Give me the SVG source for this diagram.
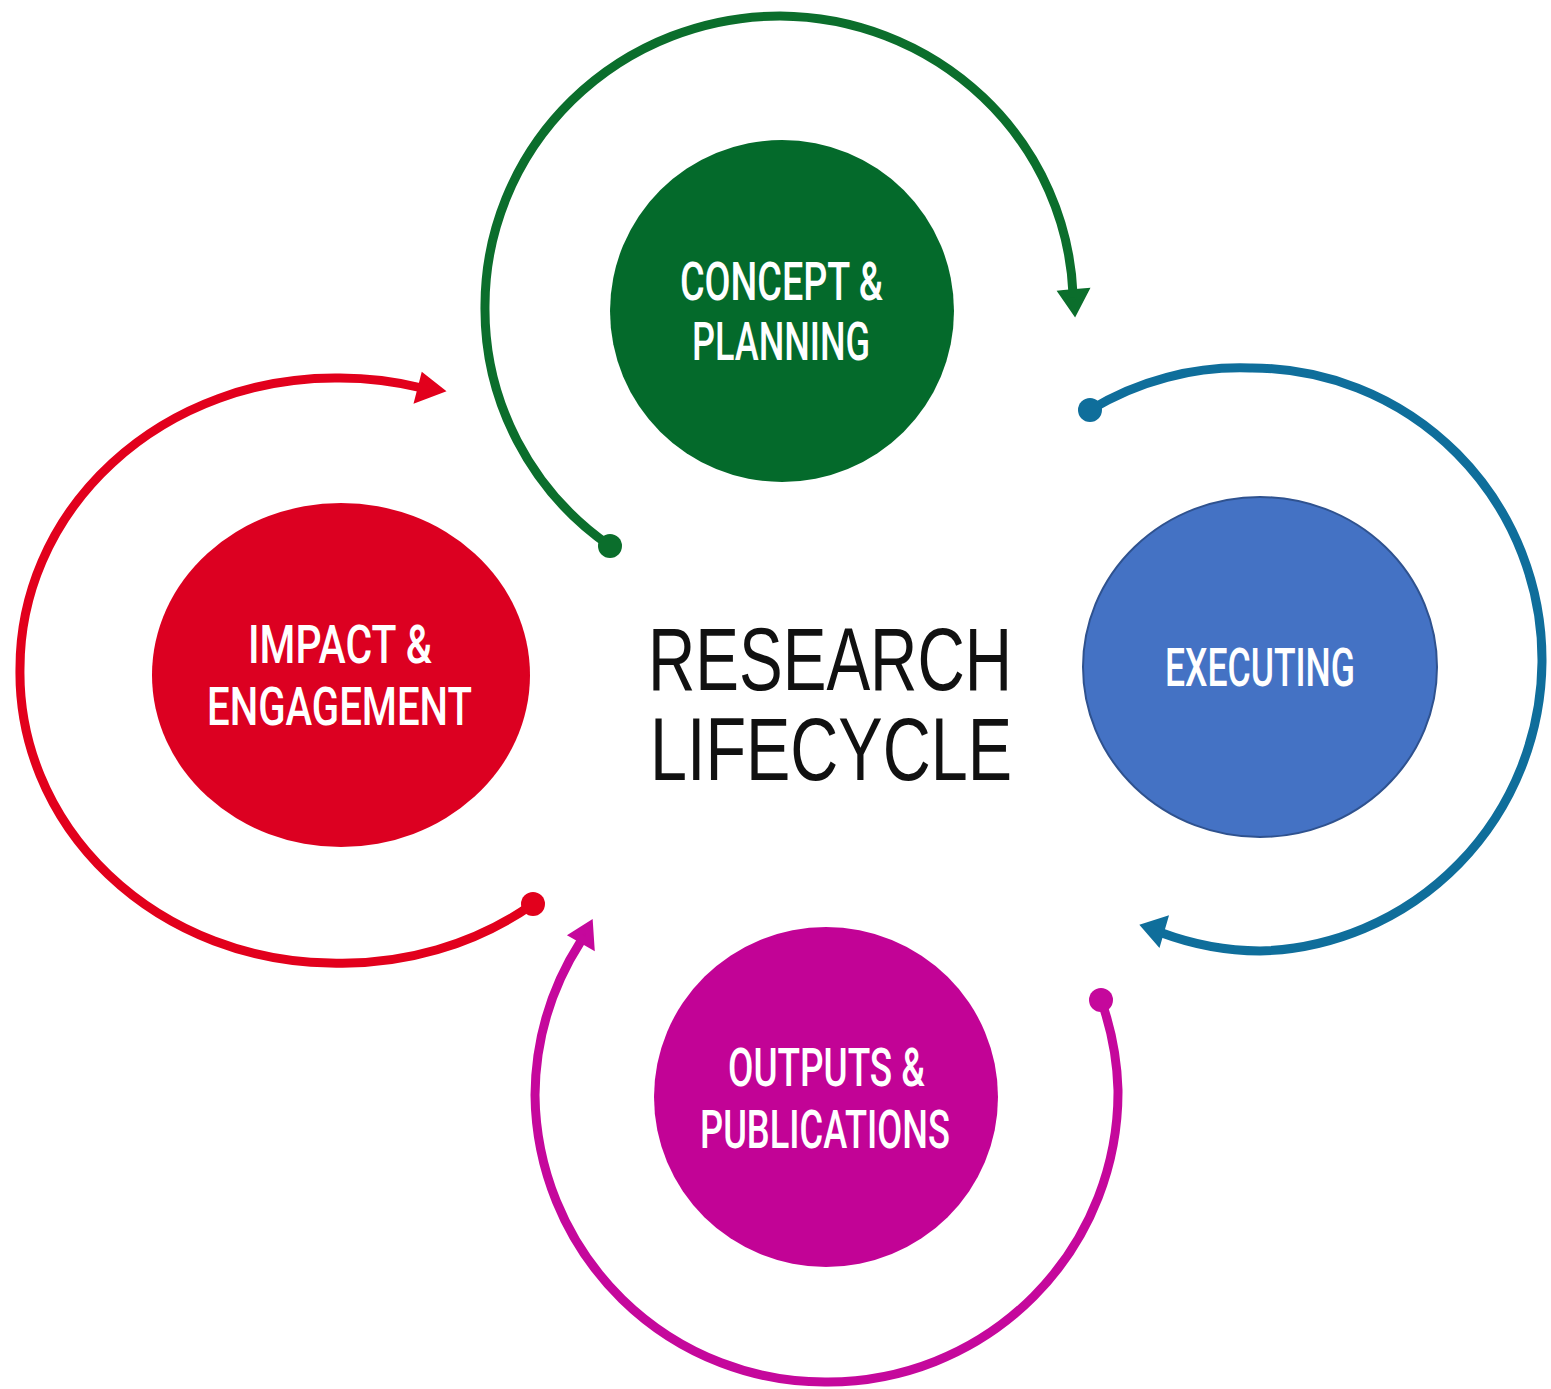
<svg xmlns="http://www.w3.org/2000/svg" width="1551" height="1389" viewBox="0 0 1551 1389">
<style>
.arc{fill:none;stroke-width:9;stroke-linecap:round}
.head{stroke-width:8;stroke-linejoin:miter;stroke-miterlimit:10}
.lbl{font-family:Roboto,"Liberation Sans",Arial,sans-serif;font-weight:500;fill:#ffffff;font-size:53px}
.title{font-family:"Liberation Sans",Arial,sans-serif;fill:#111111;font-size:89px}
</style>
<rect width="1551" height="1389" fill="#ffffff"/>
<g id="connectors">
<path class="arc" stroke="#0B6E2C" d="M610 546 A295 290 0 0 1 485 305 A295 290 0 0 1 780 16 A295 290 0 0 1 1073 294"/>
<circle fill="#0B6E2C" cx="610" cy="546" r="12"/>
<path class="head" fill="#0B6E2C" stroke="#0B6E2C" d="M1063.8 294.1 L1083.6 292.3 L1074.6 309.7 Z"/>
<path class="arc" stroke="#0F6E9B" d="M1090 410 A290 292 0 0 1 1250 368 A290 292 0 0 1 1542 662 A290 292 0 0 1 1260 951 A290 292 0 0 1 1162 933"/>
<circle fill="#0F6E9B" cx="1090" cy="410" r="12"/>
<path class="head" fill="#0F6E9B" stroke="#0F6E9B" d="M1163.1 921.3 L1157.7 939.9 L1146.3 926.7 Z"/>
<path class="arc" stroke="#E2001C" d="M533 904 A315 290 0 0 1 330 963 A315 290 0 0 1 20 668 A315 290 0 0 1 335 378 A315 290 0 0 1 422 388"/>
<circle fill="#E2001C" cx="533" cy="904" r="12"/>
<path class="head" fill="#E2001C" stroke="#E2001C" d="M424.1 378.7 L419.3 397.3 L438.5 390.1 Z"/>
<path class="arc" stroke="#C5089C" d="M1101 1000 A290 290 0 0 1 1118 1090 A290 290 0 0 1 828 1382 A290 290 0 0 1 535 1095 A290 290 0 0 1 581 941"/>
<circle fill="#C5089C" cx="1101" cy="1000" r="12"/>
<path class="head" fill="#C5089C" stroke="#C5089C" d="M574.7 935 L590.3 944 L589.1 926 Z"/>
</g>
<g id="node-concept">
<ellipse cx="782" cy="311" rx="172" ry="171" fill="#046A2B"/>
<text class="lbl" x="680" y="300" textLength="203" lengthAdjust="spacingAndGlyphs">CONCEPT &amp;</text>
<text class="lbl" x="692" y="360" textLength="178" lengthAdjust="spacingAndGlyphs">PLANNING</text>
</g>
<g id="node-executing">
<ellipse cx="1260" cy="667" rx="177" ry="170" fill="#4472C4" stroke="#2F528F" stroke-width="2"/>
<text class="lbl" x="1165" y="686" font-size="50" textLength="190" lengthAdjust="spacingAndGlyphs">EXECUTING</text>
</g>
<g id="node-outputs">
<ellipse cx="826" cy="1097" rx="172" ry="170" fill="#C20396"/>
<text class="lbl" x="728" y="1086" textLength="197" lengthAdjust="spacingAndGlyphs">OUTPUTS &amp;</text>
<text class="lbl" x="700" y="1148" textLength="250" lengthAdjust="spacingAndGlyphs">PUBLICATIONS</text>
</g>
<g id="node-impact">
<ellipse cx="341" cy="675" rx="189" ry="172" fill="#DC0021"/>
<text class="lbl" x="248" y="663" textLength="184" lengthAdjust="spacingAndGlyphs">IMPACT &amp;</text>
<text class="lbl" x="207" y="725" textLength="265" lengthAdjust="spacingAndGlyphs">ENGAGEMENT</text>
</g>
<g id="title">
<text class="title" x="648" y="690" textLength="364" lengthAdjust="spacingAndGlyphs">RESEARCH</text>
<text class="title" x="650" y="780" font-size="87" textLength="362" lengthAdjust="spacingAndGlyphs">LIFECYCLE</text>
</g>
</svg>
